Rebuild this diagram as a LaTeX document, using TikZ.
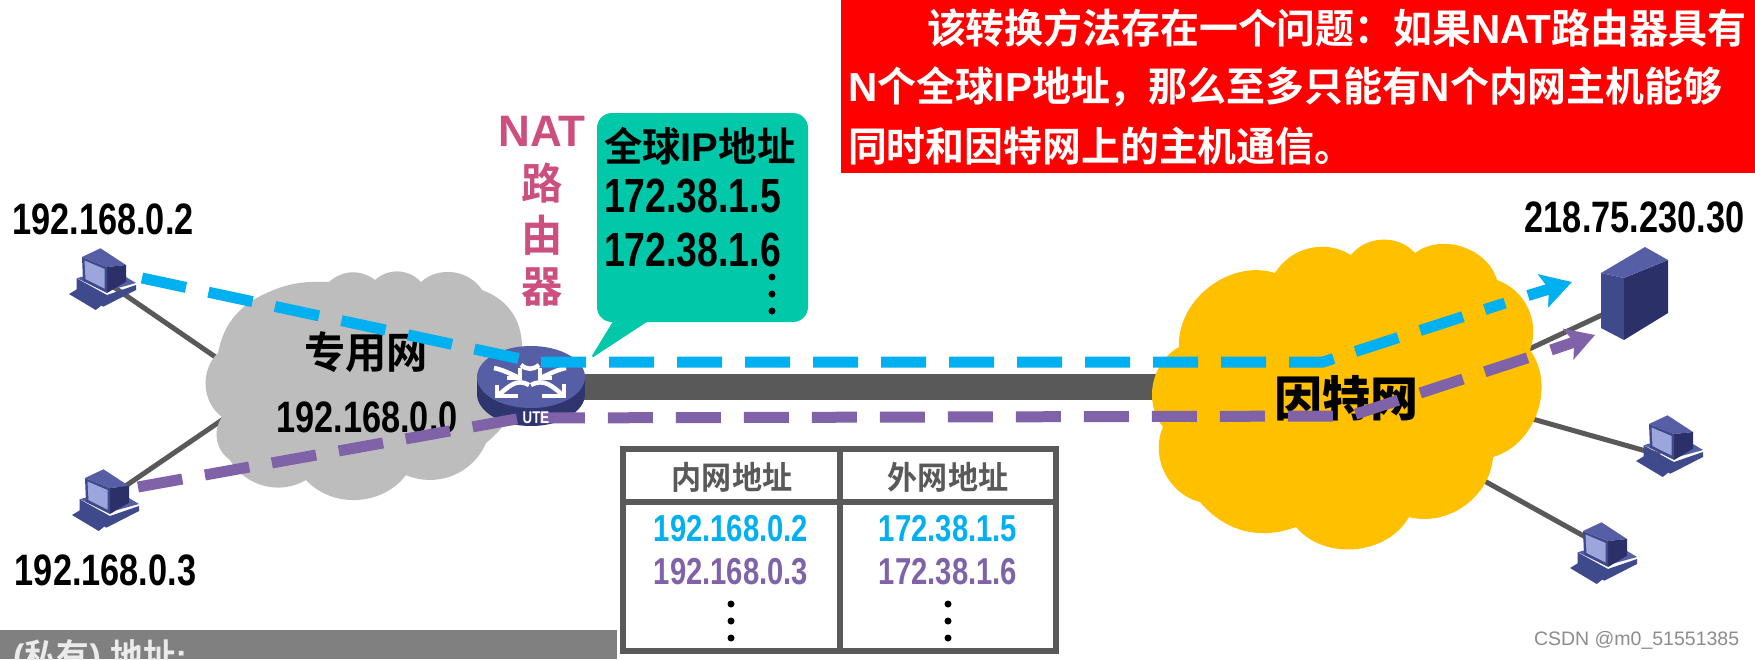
\documentclass[tikz,border=0pt]{standalone}
\usepackage{fontspec}
\usetikzlibrary{arrows.meta}
\setmainfont{Liberation Sans}
\newfontfamily\cjkb[FakeStretch=0.96]{Noto Sans CJK SC Bold}
\newfontfamily\cjkn[FakeStretch=0.94]{Noto Sans CJK SC Bold}
\newfontfamily\cjkw{Noto Sans CJK SC Black}
\newfontfamily\latb[FakeStretch=0.78]{Liberation Sans Bold}
\newfontfamily\latw{Liberation Sans Bold}
\newcommand{\fs}[1]{\fontsize{#1}{#1}\selectfont}
\definecolor{linegray}{HTML}{595959}
\definecolor{cloudgray}{HTML}{BDBDBD}
\definecolor{cloudyel}{HTML}{FFC000}
\definecolor{cblue}{HTML}{00B0F0}
\definecolor{cpurple}{HTML}{7F62A8}
\definecolor{pinkt}{HTML}{CC4F7F}
\definecolor{teal2}{HTML}{00C8A9}
\definecolor{icA}{HTML}{565FA5}
\definecolor{icB}{HTML}{2B3168}
\definecolor{icC}{HTML}{3F4A8C}
\definecolor{icS}{HTML}{9CA6DC}
\tikzset{
  txt/.style={inner sep=0pt,outer sep=0pt},
  link/.style={draw=linegray,line width=5pt},
  bluepath/.style={draw=cblue,line width=11pt,dash pattern=on 45pt off 23pt},
  purppath/.style={draw=cpurple,line width=11pt,dash pattern=on 45pt off 23pt},
  bluetip/.style={draw=cblue,line width=11pt,-{Stealth[length=30pt,width=34pt,inset=6pt]}},
  purptip/.style={draw=cpurple,line width=11pt,-{Stealth[length=28pt,width=32pt,inset=6pt]}},
  routerline/.style={draw=white,line width=4.5pt,line cap=butt},
  tabline/.style={draw=linegray,line width=5.5pt},
  lobe/.style={bend left=#1},
  pcicon/.pic={
    \fill[icC] (-25.5,-0.7)--(5,16)--(34,6)--(34,11)--(1.3,27.7)--(-25.5,11)--cycle;
    \fill[icA] (-25.5,-0.7)--(5,12)--(34,4)--(24,-2)--(-14,-4)--cycle;
    \fill[icC] (-33,15)--(-23.5,9.3)--(1.3,25)--(-6.3,31)--cycle;
    \fill[icA] (-20,-22)--(-1.5,-30.7)--(24,-14)--(5,-12)--cycle;
    \fill[icB] (5,-12)--(24,-14)--(24,2.7)--(5,14)--cycle;
    \fill[icC] (-20,-22)--(5,-12)--(5,14)--(-19,2)--cycle;
    \fill[icS] (-17.5,-18.5)--(2.5,-10)--(2.5,9.5)--(-16.5,0)--cycle;
  },
}
\begin{document}
\begin{tikzpicture}[x=1pt,y=-1pt]
\useasboundingbox (0,0) rectangle (1755,659);
\fill[white] (0,0) rectangle (1755,659);

% anchors
\coordinate (pc1) at (102,279);
\coordinate (pc2) at (105,500);
\coordinate (pc3) at (1669,446);
\coordinate (pc4) at (1603,553);
\coordinate (srv) at (1634,300);
\coordinate (gA) at (230,367);
\coordinate (gB) at (225,418);
\coordinate (yA) at (1510,358);
\coordinate (yB) at (1515,414);
\coordinate (yC) at (1470,473);
\coordinate (pc3l) at (1660,455);
\coordinate (pc4l) at (1600,545);
\coordinate (barL) at (560,387);
\coordinate (barR) at (1180,387);

% links under everything
\draw[link] (pc1) -- (gA);
\draw[link] (pc2) -- (gB);
\draw[link] (yA) -- (srv);
\draw[link] (yB) -- (pc3l);
\draw[link] (yC) -- (pc4l);
\draw[draw=linegray,line width=26pt] (barL) -- (barR);

% grey cloud
\fill[cloudgray] (222,417) to[lobe=50] (218,353) to[lobe=22] (253,300) to[lobe=16] (329,282)
 to[lobe=40] (375,280) to[lobe=45] (421,282) to[lobe=50] (482,290) to[lobe=35] (522,347)
 to[lobe=30] (486,443) to[lobe=45] (406,475) to[lobe=50] (306,480) to[lobe=45] (230,460)
 to[lobe=45] (222,417) -- cycle;

% yellow cloud
\fill[cloudyel] (1163,427) to[lobe=50] (1179,347) to[lobe=55] (1275,273) to[lobe=45] (1351,255)
 to[lobe=50] (1415,253) to[lobe=55] (1497,280) to[lobe=45] (1530,350) to[lobe=55] (1493,457)
 to[lobe=50] (1409,517) to[lobe=55] (1296,527) to[lobe=35] (1200,502) to[lobe=50] (1163,427) -- cycle;

% router
\fill[icB!80!icC] (531,394) ellipse[x radius=54,y radius=32];
\fill[icB!80!icC] (477,377) rectangle (585,394);
\fill[icA] (531,377) ellipse[x radius=54,y radius=31];
\begin{scope}[shift={(530,378)}]
 \draw[routerline] (-33,7)--(-33,18)--(-12,18);
 \draw[routerline] (-33,18) .. controls (-20,8) and (-14,0) .. (-1,7);
 \draw[routerline] (34,6)--(34,18)--(12,18);
 \draw[routerline] (34,18) .. controls (22,8) and (14,0) .. (1,7);
 \draw[routerline] (-23,0)--(-10,0)--(-10,-10);
 \draw[routerline] (-10,0) .. controls (-20,-4) and (-26,-8) .. (-36,-10);
 \draw[routerline] (22,0)--(10,0)--(10,-10);
 \draw[routerline] (10,0) .. controls (20,-4) and (26,-8) .. (36,-10);
 \draw[routerline] (-9,-13) .. controls (-3,-8) and (3,-8) .. (9,-13);
\end{scope}

% texts on the network
\node[txt] (t1) at (103,219) {\latb\fs{44}192.168.0.2};
\node[txt] (t2) at (105.5,570) {\latb\fs{44}192.168.0.3};
\node[txt] (t3) at (367,417) {\latb\fs{44}192.168.0.0};
\node[txt] (t4) at (1634.5,217) {\latb\fs{44}218.75.230.30};
\node[txt] (t5) at (366,352) {\cjkb\fs{43}专用网};
\node[txt] (t6) at (1346,398) {\cjkw\fs{48}因特网};

% NAT label
\node[txt,text=pinkt] (nat) at (542,131) {\latw\fs{44}NAT};
\node[txt,text=pinkt] (lu) at (542,183) {\cjkb\fs{43}路};
\node[txt,text=pinkt] (you) at (542,235) {\cjkb\fs{43}由};
\node[txt,text=pinkt] (qi) at (542,287) {\cjkb\fs{43}器};

% bubble
\fill[teal2,rounded corners=15pt] (597,113) rectangle (808,322);
\fill[teal2,line join=round,draw=teal2,line width=2pt] (615,320) -- (593,356) -- (648,320) -- cycle;
\node[txt,anchor=west] (b1) at (604,146) {\cjkb\fs{40}全球{\latw\fs{40}IP}地址};
\node[txt,anchor=west] (b2) at (604,196) {\latb\fs{48}172.38.1.5};
\node[txt,anchor=west] (b3) at (604,250) {\latb\fs{48}172.38.1.6};
\foreach \yy in {277,294,311} \fill[black] (772,\yy) circle[radius=3.5];

% dashed paths
\coordinate (bs) at (142,278);
\coordinate (bc1) at (535,362);
\coordinate (bc2) at (1323,362);
\coordinate (be) at (1505,303);
\coordinate (bst) at (1528,295.5);
\coordinate (bt) at (1572,282);
\coordinate (ps) at (138,487);
\coordinate (pc1a) at (522,418);
\coordinate (pc2a) at (1350,416);
\coordinate (pe) at (1530,357);
\coordinate (pst) at (1551,350);
\coordinate (pt) at (1595,335);
\draw[bluepath] (bs) -- (bc1) -- (bc2) -- (be);
\draw[bluetip] (bst) -- (bt);
\draw[purppath] (ps) -- (pc1a) -- (pc2a) -- (pe);
\draw[purptip] (pst) -- (pt);
\node[txt,text=white] (ute) at (536,418) {\latb\fs{17}UTE};

% PCs and server
\pic at (pc1) {pcicon};
\pic at (pc2) {pcicon};
\pic at (pc3) {pcicon};
\pic at (pc4) {pcicon};
\fill[icC] (1601,273)--(1624,278)--(1624,340)--(1601,328)--cycle;
\fill[icB] (1624,278)--(1668,260)--(1668,313)--(1624,340)--cycle;
\fill[icA] (1601,273)--(1645,247)--(1668,260)--(1624,278)--cycle;

% table
\draw[tabline] (623,449) rectangle (1056,651);
\draw[tabline] (840,449) -- (840,651);
\draw[tabline] (623,502) -- (1056,502);
\node[txt,text=linegray] (h1) at (732,477) {\cjkn\fs{32}内网地址};
\node[txt,text=linegray] (h2) at (948,477) {\cjkn\fs{32}外网地址};
\node[txt,text=cblue] (r1) at (731,529) {\latb\fs{37.5}192.168.0.2};
\node[txt,text=cpurple] (r2) at (731,572) {\latb\fs{37.5}192.168.0.3};
\node[txt,text=cblue] (r3) at (948,529) {\latb\fs{37.5}172.38.1.5};
\node[txt,text=cpurple] (r4) at (948,572) {\latb\fs{37.5}172.38.1.6};
\foreach \yy in {604,621,638} {\fill[black] (731,\yy) circle[radius=3.5]; \fill[black] (948,\yy) circle[radius=3.5];}

% red box
\fill[red] (841,0) rectangle (1755,173);
\node[txt,anchor=west,text=white] (p1) at (927,28) {\cjkb\fs{40.5}该转换方法存在一个问题：如果{\latw\fs{40.5}NAT}路由器具有};
\node[txt,anchor=west,text=white] (p2) at (848,87) {{\latw\fs{40.5}N}\cjkb\fs{40.5}个全球{\latw\fs{40.5}IP}地址，那么至多只能有{\latw\fs{40.5}N}个内网主机能够};
\node[txt,anchor=west,text=white] (p3) at (848,146) {\cjkb\fs{40.5}同时和因特网上的主机通信。};

% bottom grey strip
\fill[gray] (0,630) rectangle (617,659);
\begin{scope}
 \clip (0,630) rectangle (617,659);
 \node[txt,anchor=west,text=white!92!black] (s1) at (13,658) {{\latw\fs{34}(}\cjkb\fs{34}私有{\latw\fs{34}) }地址{\latw\fs{34}:}};
\end{scope}

% watermark
\node[txt,anchor=west,text=black!45] (wm) at (1534,640) {\fs{19.5}CSDN @m0\_51551385};
\end{tikzpicture}
\end{document}
